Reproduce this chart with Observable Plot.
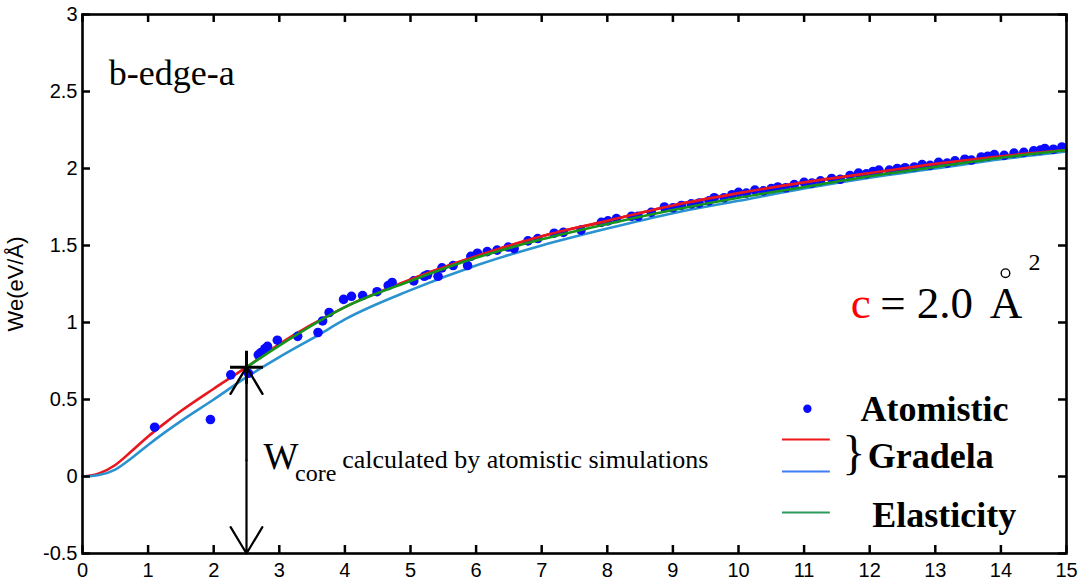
<!DOCTYPE html>
<html><head><meta charset="utf-8">
<script src="https://cdn.jsdelivr.net/npm/d3@7"></script>
<script src="https://cdn.jsdelivr.net/npm/@observablehq/plot@0.6"></script>
<style>
html,body{margin:0;padding:0;background:#fff}
#chart{position:relative;width:1079px;height:582px}
#chart svg{display:block;position:absolute;left:0;top:0}
</style>
</head><body><div id="chart"></div>
<script>
// ---- tick labels ----
const xTicks = [0,1,2,3,4,5,6,7,8,9,10,11,12,13,14,15];
const yTicks = [-0.5,0,0.5,1,1.5,2,2.5,3];

// ---- Atomistic points ----
const atomX = [1.10,1.95,2.26,2.53,2.68,2.72,2.78,2.82,2.97,3.28,3.59,3.66,3.76,3.98,4.10,4.27,4.49,4.66,4.72,5.05,
  5.21,5.26,5.42,5.48,5.65,5.87,5.92,6.02,6.17,6.32,6.49,6.58,6.79,6.94,7.19,7.33,7.60,7.91,8.01,8.14,
  8.37,8.47,8.67,8.87,9.00,9.13,9.28,9.40,9.55,9.63,9.78,9.90,10.00,10.12,10.25,10.38,10.50,10.60,10.72,10.85,
  11.00,11.12,11.25,11.42,11.55,11.70,11.83,11.95,12.05,12.14,12.30,12.42,12.54,12.68,12.80,12.92,13.05,13.18,13.30,13.45,
  13.55,13.70,13.80,13.90,14.05,14.20,14.35,14.50,14.60,14.67,14.80,14.93];
const atomY = [0.32,0.37,0.66,0.67,0.79,0.805,0.83,0.845,0.885,0.91,0.935,1.01,1.065,1.15,1.17,1.175,1.20,1.24,1.26,1.27,
  1.30,1.31,1.30,1.355,1.37,1.37,1.43,1.45,1.46,1.47,1.49,1.48,1.53,1.545,1.58,1.585,1.60,1.65,1.66,1.675,
  1.69,1.69,1.715,1.75,1.745,1.76,1.77,1.775,1.79,1.81,1.81,1.83,1.845,1.84,1.86,1.855,1.87,1.88,1.875,1.895,
  1.91,1.905,1.92,1.935,1.93,1.955,1.97,1.965,1.98,1.99,1.99,2.00,2.005,2.01,2.025,2.02,2.04,2.035,2.05,2.06,
  2.055,2.075,2.08,2.09,2.085,2.10,2.105,2.115,2.12,2.13,2.125,2.14];

// ---- Gradela (red) ----
const redX = [0,0.25,0.5,0.75,1,1.25,1.5,2,2.5,3,4,5,6,7,8,9,10,11,12,13,14,15];
const redY = [0,0.02,0.075,0.165,0.26,0.345,0.425,0.57,0.71,0.86,1.10,1.28,1.43,1.56,1.66,1.76,1.84,1.91,1.97,2.03,2.08,2.12];
// ---- Gradela (blue) ----
const blueX = [0,0.25,0.5,0.75,1,1.25,1.5,2,2.5,3,3.6,4,5,6,7,8,9,10,11,12,13,14,15];
const blueY = [0,0.01,0.045,0.12,0.205,0.285,0.36,0.50,0.645,0.775,0.92,1.02,1.21,1.37,1.50,1.61,1.71,1.79,1.87,1.94,2.00,2.06,2.11];
// ---- Elasticity (green) ----
const greenX = [2.5,3,4,5,6,7,8,9,10,11,12,13,14,15];
const greenY = [0.71,0.85,1.10,1.27,1.42,1.54,1.64,1.73,1.81,1.88,1.95,2.01,2.07,2.12];

// ---- Wcore marker ----
const coreX = [2.5];
const coreY = [0.71];
const baseY = [-0.5];

const serif = "'Liberation Serif','Times New Roman',serif";
const sans = "'Liberation Sans',Arial,sans-serif";

const chartW = 1079, chartH = 582, mL = 82, mR = 13, mT = 14, mB = 29;
const xDom = [0, 15], yDom = [-0.5, 3];
const tickPx = 8;
const tdx = tickPx * (xDom[1] - xDom[0]) / (chartW - mL - mR);
const tdy = tickPx * (yDom[1] - yDom[0]) / (chartH - mT - mB);
const frameOpts = {width: chartW, height: chartH, marginLeft: mL, marginRight: mR, marginTop: mT, marginBottom: mB,
  x: {domain: xDom, axis: null}, y: {domain: yDom, axis: null}};

const toRows = (xs, ys) => xs.map((x, i) => ({x, y: ys[i]}));
const atoms = toRows(atomX, atomY);
const red = toRows(redX, redY);
const blue = toRows(blueX, blueY);
const green = toRows(greenX, greenY);

const plusSymbol = {draw(ctx, size) {
  const r = Math.sqrt(size / Math.PI);
  ctx.moveTo(-r, 0); ctx.lineTo(r, 0);
  ctx.moveTo(0, -r); ctx.lineTo(0, r);
}};

const mid = (coreY[0] + baseY[0]) / 2;
const T = (s, o) => Plot.text([s], {text: d => d, lineAnchor: "bottom", textAnchor: "start", fontFamily: serif, ...o});

// layer 1: data, annotations, legend
const dataLayer = Plot.plot({
  ...frameOpts,
  marks: [
    Plot.line(red, {x: "x", y: "y", stroke: "#e8171e", strokeWidth: 2.6, curve: "monotone-x"}),
    Plot.line(blue, {x: "x", y: "y", stroke: "#2a92cf", strokeWidth: 2.6, curve: "monotone-x"}),
    Plot.dot(atoms, {x: "x", y: "y", r: 4.8, fill: "#0a0aff", stroke: "none"}),
    Plot.line(red.filter(d => d.x >= 5), {x: "x", y: "y", stroke: "#e8171e", strokeWidth: 2.6, curve: "monotone-x"}),
    Plot.line(green, {x: "x", y: "y", stroke: "#17951a", strokeWidth: 2.6, curve: "monotone-x"}),
    Plot.arrow([0], {x1: coreX[0], x2: coreX[0], y1: mid, y2: coreY[0], stroke: "black", strokeWidth: 2.4, headLength: 21, headAngle: 62}),
    Plot.arrow([0], {x1: coreX[0], x2: coreX[0], y1: mid, y2: baseY[0], stroke: "black", strokeWidth: 2.2, headLength: 21, headAngle: 62}),
    Plot.dot([0], {x: coreX[0], y: coreY[0], r: 16.5, symbol: plusSymbol, fill: "none", stroke: "black", strokeWidth: 3}),
    T("b-edge-a", {x: 0.40, y: 2.54, fontSize: 36}),
    T("W", {x: 2.76, y: 0.05, fontSize: 37}),
    T("core", {x: 3.24, y: -0.026, fontSize: 24}),
    T("calculated by atomistic simulations", {x: 3.96, y: 0.058, fontSize: 26}),
    T("c", {x: 11.71, y: 1.026, fontSize: 45, fill: "#ff0000"}),
    T("= 2.0", {x: 12.16, y: 1.026, fontSize: 45}),
    T("A", {x: 13.83, y: 1.026, fontSize: 45}),
    Plot.dot([0], {x: 14.07, y: 1.32, r: 4.3, fill: "none", stroke: "black", strokeWidth: 1.4}),
    T("2", {x: 14.42, y: 1.34, fontSize: 24}),
    Plot.dot([0], {x: 11.05, y: 0.44, r: 4.2, fill: "#0a0aff"}),
    T("Atomistic", {x: 11.86, y: 0.36, fontSize: 36, fontWeight: "bold"}),
    Plot.ruleY([0.24], {x1: 10.67, x2: 11.40, stroke: "#f01818", strokeWidth: 2}),
    Plot.ruleY([0.032], {x1: 10.67, x2: 11.40, stroke: "#3d7ff0", strokeWidth: 2}),
    Plot.ruleY([-0.234], {x1: 10.67, x2: 11.40, stroke: "#2e9a5e", strokeWidth: 2}),
    T("}", {x: 11.58, y: 0.05, fontSize: 48}),
    T("Gradela", {x: 11.97, y: 0.052, fontSize: 36, fontWeight: "bold"}),
    T("Elasticity", {x: 12.04, y: -0.33, fontSize: 36, fontWeight: "bold"})
  ]
});

// layer 2: frame, inward ticks, tick labels, axis title
const axisLayer = Plot.plot({
  ...frameOpts,
  marks: [
    Plot.ruleX(xTicks, {x: d => d, y1: yDom[0], y2: yDom[0] + tdy, stroke: "black", strokeWidth: 2.5}),
    Plot.ruleX(xTicks, {x: d => d, y1: yDom[1], y2: yDom[1] - tdy, stroke: "black", strokeWidth: 2.5}),
    Plot.ruleY(yTicks, {y: d => d, x1: xDom[0], x2: xDom[0] + tdx, stroke: "black", strokeWidth: 2.5}),
    Plot.ruleY(yTicks, {y: d => d, x1: xDom[1], x2: xDom[1] - tdx, stroke: "black", strokeWidth: 2.5}),
    Plot.text(xTicks, {x: d => d, y: yDom[0], text: d => String(d), dy: 9, lineAnchor: "top", textAnchor: "middle", fontSize: 20, fontFamily: sans, fill: "black"}),
    Plot.text(yTicks, {x: xDom[0], y: d => d, text: d => String(d), dx: -5, lineAnchor: "middle", textAnchor: "end", fontSize: 20, fontFamily: sans, fill: "black"}),
    Plot.frame({stroke: "black", strokeWidth: 2.6}),
    Plot.text(["We(eV/Å)"], {frameAnchor: "left", textAnchor: "middle", lineAnchor: "middle", rotate: -90, dx: -67, fontSize: 22, fontFamily: sans})
  ]
});
const host = document.getElementById("chart");
host.append(dataLayer);
host.append(axisLayer);
</script>
</body></html>
